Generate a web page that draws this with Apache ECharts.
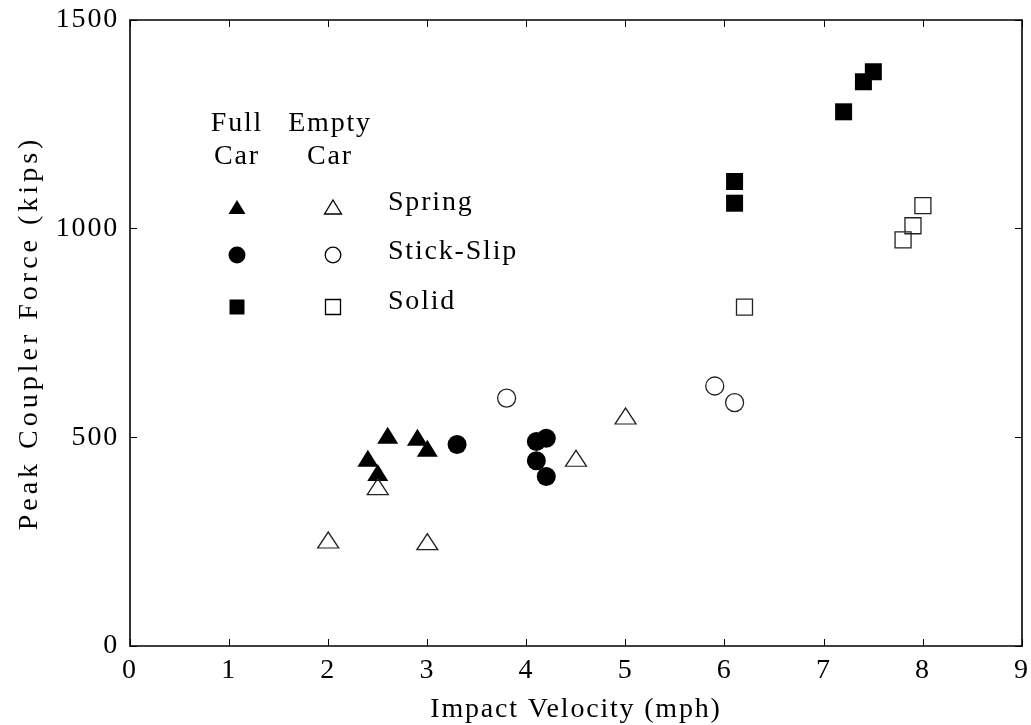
<!DOCTYPE html>
<html>
<head>
<meta charset="utf-8">
<script src="https://cdn.jsdelivr.net/npm/echarts@6/dist/echarts.min.js"></script>
<style>
  html, body { margin: 0; padding: 0; background: #fff; }
  #chart { width: 1031px; height: 725px; }
</style>
</head>
<body>
<div id="chart"></div>
<script>
// Peak coupler force vs impact velocity, by draft gear model and car loading
const xTicks = [0, 1, 2, 3, 4, 5, 6, 7, 8, 9];
const yTicks = [0, 500, 1000, 1500];
const xTitle = 'Impact Velocity (mph)';
const yTitle = 'Peak Coupler Force (kips)';

// [velocity mph, force kips]
const fullSpring  = [[2.4, 450], [2.5, 416], [2.6, 505], [2.9, 500], [3.0, 474]];
const emptySpring = [[2.0, 254], [2.5, 382], [3.0, 250], [4.5, 450], [5.0, 551]];
const fullStick   = [[3.3, 483], [4.1, 490], [4.2, 498], [4.1, 444], [4.2, 406]];
const emptyStick  = [[3.8, 594], [5.9, 623], [6.1, 583]];
const fullSolid   = [[6.1, 1113], [6.1, 1061], [7.2, 1280], [7.4, 1352], [7.5, 1376]];
const emptySolid  = [[6.2, 812], [7.8, 973], [7.9, 1007], [8.0, 1055]];

const models = ['Spring', 'Stick-Slip', 'Solid'];
const headers = [['Full', 'Car'], ['Empty', 'Car']];

const FONT = '"Liberation Serif", "Times New Roman", serif';
const FS = 28;

// Loose tracking on the serif face; the rotated axis title is set wider still.
(function () {
  const proto = CanvasRenderingContext2D.prototype;
  if (!('letterSpacing' in proto)) return;
  const spacingFor = ctx => {
    const t = ctx.getTransform();
    return Math.abs(t.b) > 0.5 ? '4px' : '1.8px';
  };
  const fill = proto.fillText;
  proto.fillText = function () { this.letterSpacing = spacingFor(this); return fill.apply(this, arguments); };
  const stroke = proto.strokeText;
  proto.strokeText = function () { this.letterSpacing = spacingFor(this); return stroke.apply(this, arguments); };
  const measure = proto.measureText;
  proto.measureText = function () { this.letterSpacing = '1.8px'; return measure.apply(this, arguments); };
})();

const axisLine = { show: true, onZero: false, lineStyle: { color: '#000', width: 1.6 } };
const tick = { show: true, inside: true, length: 7, lineStyle: { color: '#000', width: 1 } };
const labelStyle = { color: '#000', fontSize: FS, fontFamily: FONT };

function filled(name, data, symbol, size) {
  return {
    name, type: 'scatter', data, symbol, symbolSize: size, z: 3,
    itemStyle: { color: '#000', borderWidth: 0, opacity: 1 },
    emphasis: { disabled: true }
  };
}
function open(name, data, symbol, size) {
  return {
    name, type: 'scatter', data, symbol, symbolSize: size, z: 4,
    itemStyle: { color: 'rgba(0,0,0,0)', borderColor: '#222', borderWidth: 1.3, opacity: 1 },
    emphasis: { disabled: true }
  };
}

const chart = echarts.init(document.getElementById('chart'), null, { renderer: 'canvas' });

// key block: two marker columns with headers, model names on the right
const colX = [237, 333];
const headX = [237, 330];
const headY = [124, 157];
const rowY = [207, 255, 307];
const textY = [203, 252, 302];
const textX = 388;
const graphics = [];
headers.forEach((h, i) => {
  h.forEach((line, j) => {
    graphics.push({
      type: 'text', x: headX[i], y: headY[j], z: 10,
      style: { text: line, font: FS + 'px ' + FONT, fill: '#000', textAlign: 'center', textVerticalAlign: 'middle' }
    });
  });
});
function triPts(cx, cy, w, h) {
  return [[cx, cy - h / 2], [cx + w / 2, cy + h / 2], [cx - w / 2, cy + h / 2]];
}
rowY.forEach((y, r) => {
  [0, 1].forEach(c => {
    const cx = colX[c];
    const st = c === 0 ? { fill: '#000' } : { fill: 'none', stroke: '#000', lineWidth: 1.3 };
    if (r === 0) graphics.push({ type: 'polygon', shape: { points: triPts(cx, y, 17, 14) }, style: st, z: 10 });
    if (r === 1) graphics.push({ type: 'circle', shape: { cx, cy: y, r: c === 0 ? 8.5 : 7.8 }, style: st, z: 10 });
    if (r === 2) graphics.push({ type: 'rect', shape: { x: cx - 7.5, y: y - 7.5, width: 15, height: 15 }, style: st, z: 10 });
  });
  graphics.push({
    type: 'text', x: textX, y: textY[r], z: 10,
    style: { text: models[r], font: FS + 'px ' + FONT, fill: '#000', textAlign: 'left', textVerticalAlign: 'middle' }
  });
});

chart.setOption({
  animation: false,
  backgroundColor: '#fff',
  textStyle: { fontFamily: FONT },
  grid: { left: 130, right: 9, top: 20, bottom: 79, containLabel: false, outerBoundsMode: 'none' },
  xAxis: [
    {
      type: 'value', min: xTicks[0], max: xTicks[xTicks.length - 1], interval: 1,
      axisLine, axisTick: tick, splitLine: { show: false },
      axisLabel: Object.assign({ margin: 10, formatter: v => String(v) }, labelStyle),
      name: xTitle, nameLocation: 'middle', nameGap: 49,
      nameTextStyle: labelStyle
    },
    {
      type: 'value', position: 'top', min: xTicks[0], max: xTicks[xTicks.length - 1], interval: 1,
      axisLine, axisTick: tick, axisLabel: { show: false }, splitLine: { show: false }
    }
  ],
  yAxis: [
    {
      type: 'value', min: yTicks[0], max: yTicks[yTicks.length - 1], interval: 500,
      axisLine, axisTick: tick, splitLine: { show: false },
      axisLabel: Object.assign({ margin: 11, formatter: v => String(v) }, labelStyle),
      name: yTitle, nameLocation: 'middle', nameGap: 80, nameRotate: 90,
      nameTextStyle: labelStyle
    },
    {
      type: 'value', position: 'right', min: yTicks[0], max: yTicks[yTicks.length - 1], interval: 500,
      axisLine, axisTick: tick, axisLabel: { show: false }, splitLine: { show: false }
    }
  ],
  graphic: graphics,
  series: [
    filled('Full Car Spring', fullSpring, 'triangle', [21, 17]),
    filled('Full Car Stick-Slip', fullStick, 'circle', 19),
    filled('Full Car Solid', fullSolid, 'rect', 17),
    open('Empty Car Spring', emptySpring, 'triangle', [21, 16]),
    open('Empty Car Stick-Slip', emptyStick, 'circle', 18),
    open('Empty Car Solid', emptySolid, 'rect', 16)
  ]
});
</script>
</body>
</html>
